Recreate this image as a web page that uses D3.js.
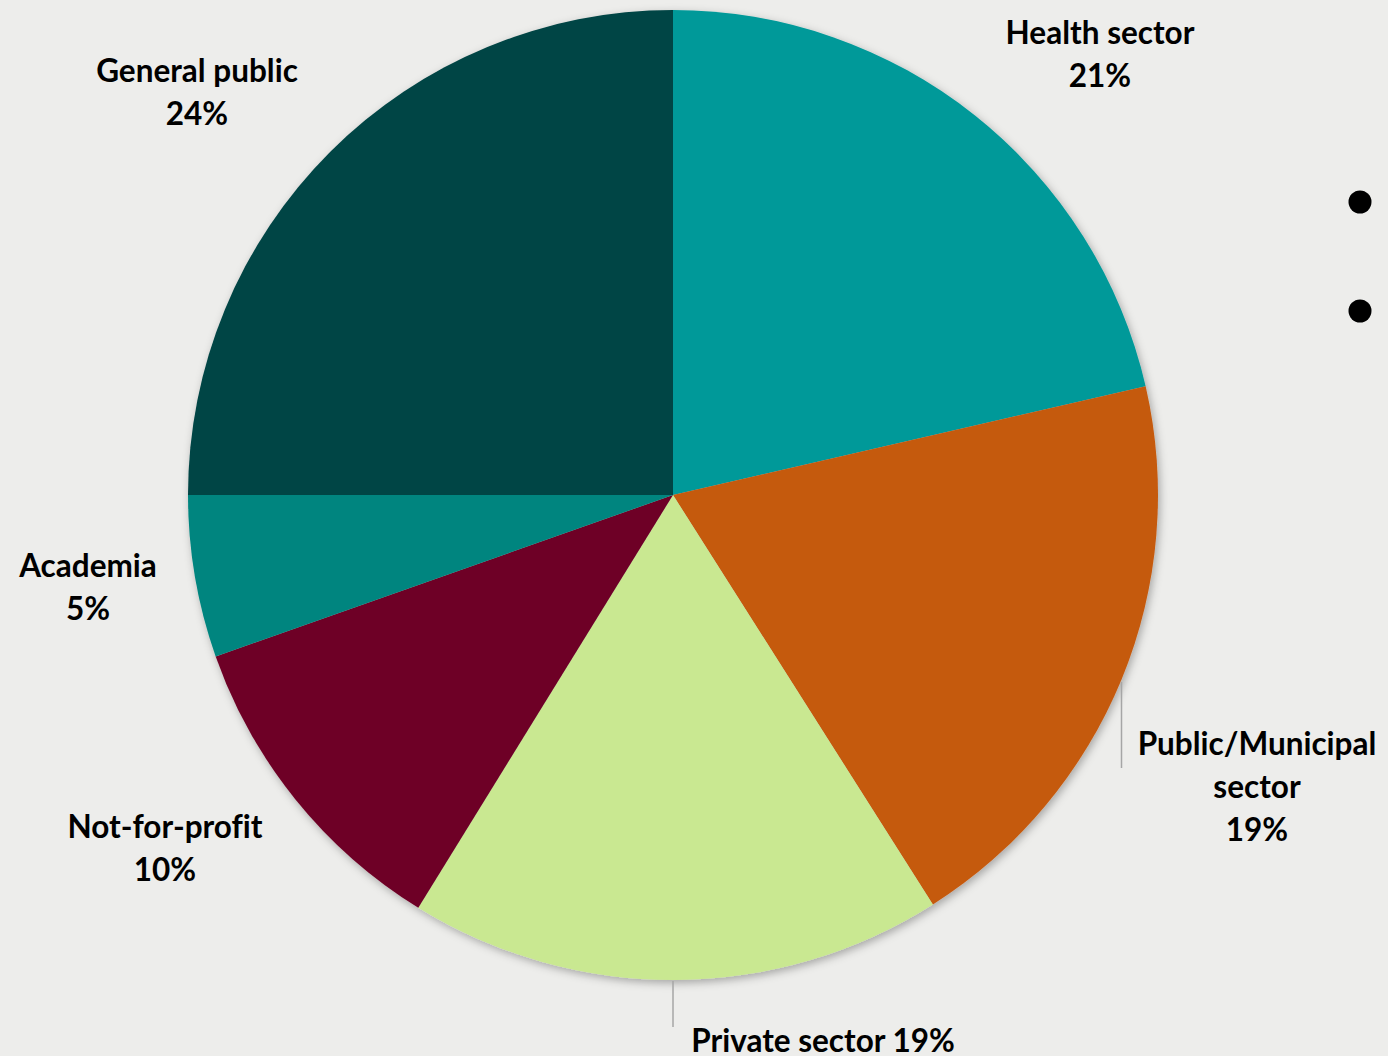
<!DOCTYPE html>
<html>
<head>
<meta charset="utf-8">
<script src="https://cdn.jsdelivr.net/npm/d3@7"></script>
<style>
  html, body { margin: 0; padding: 0; background: #ededeb; }
  svg { display: block; }
  .label { font-family: Lato, "Open Sans", sans-serif; font-weight: bold; font-size: 31.5px; fill: #000; font-variant-ligatures: none; }
</style>
</head>
<body>
<div id="chart"></div>
<script>
// Slice data, clockwise from 12 o'clock
var sectors = ["Health sector", "Public/Municipal sector", "Private sector", "Not-for-profit", "Academia", "General public"];
var shares = [21.4, 19.6, 17.8, 10.8, 5.4, 25.0];
var shareLabels = ["21%", "19%", "19%", "10%", "5%", "24%"];
var colors = ["#009999", "#c55a11", "#c9e891", "#6e0626", "#00857f", "#004444"];

// Label text lines and positions (center x, first baseline y)
var labelLines = [
    ["Health sector", "21%"],
    ["Public/Municipal", "sector", "19%"],
    ["Private sector 19%"],
    ["Not-for-profit", "10%"],
    ["Academia", "5%"],
    ["General public", "24%"]
];
var labelPos = [[1100, 44], [1257, 755], [823, 1052], [165, 838], [88, 577], [197, 82]];

var width = 1388, height = 1056;
var cx = 673, cy = 495, radius = 485;
var lineHeight = 43;

var svg = d3.select("#chart").append("svg")
    .attr("width", width)
    .attr("height", height);

// soft drop shadow under the pie
var defs = svg.append("defs");
var filter = defs.append("filter").attr("id", "shadow")
    .attr("x", "-10%").attr("y", "-10%").attr("width", "120%").attr("height", "120%");
filter.append("feDropShadow")
    .attr("dx", 2).attr("dy", 3)
    .attr("stdDeviation", 4)
    .attr("flood-color", "#000")
    .attr("flood-opacity", 0.3);

var pie = d3.pie().sort(null).value(function (d) { return d; });
var arc = d3.arc().innerRadius(0).outerRadius(radius);

var g = svg.append("g")
    .attr("transform", "translate(" + cx + "," + cy + ")")
    .attr("filter", "url(#shadow)");

g.selectAll("path")
    .data(pie(shares))
    .enter().append("path")
    .attr("d", arc)
    .attr("fill", function (d, i) { return colors[i]; });

// leader lines for the two labels sitting away from the pie
svg.append("line")
    .attr("x1", 1121.5).attr("y1", 682).attr("x2", 1121.5).attr("y2", 768)
    .attr("stroke", "#a6a6a6").attr("stroke-width", 1.5);
svg.append("line")
    .attr("x1", cx).attr("y1", cy + radius + 1).attr("x2", cx).attr("y2", 1027)
    .attr("stroke", "#a6a6a6").attr("stroke-width", 1.5);

// labels
labelLines.forEach(function (lines, i) {
    var t = svg.append("text")
        .attr("class", "label")
        .attr("text-anchor", "middle")
        .attr("x", labelPos[i][0])
        .attr("y", labelPos[i][1]);
    lines.forEach(function (s, j) {
        t.append("tspan")
            .attr("x", labelPos[i][0])
            .attr("dy", j === 0 ? 0 : lineHeight)
            .text(s);
    });
});

// stray bullet dots on the right edge
svg.selectAll(".dot")
    .data([202, 311])
    .enter().append("circle")
    .attr("class", "dot")
    .attr("cx", 1360)
    .attr("cy", function (d) { return d; })
    .attr("r", 11.5)
    .attr("fill", "#000");
</script>
</body>
</html>
